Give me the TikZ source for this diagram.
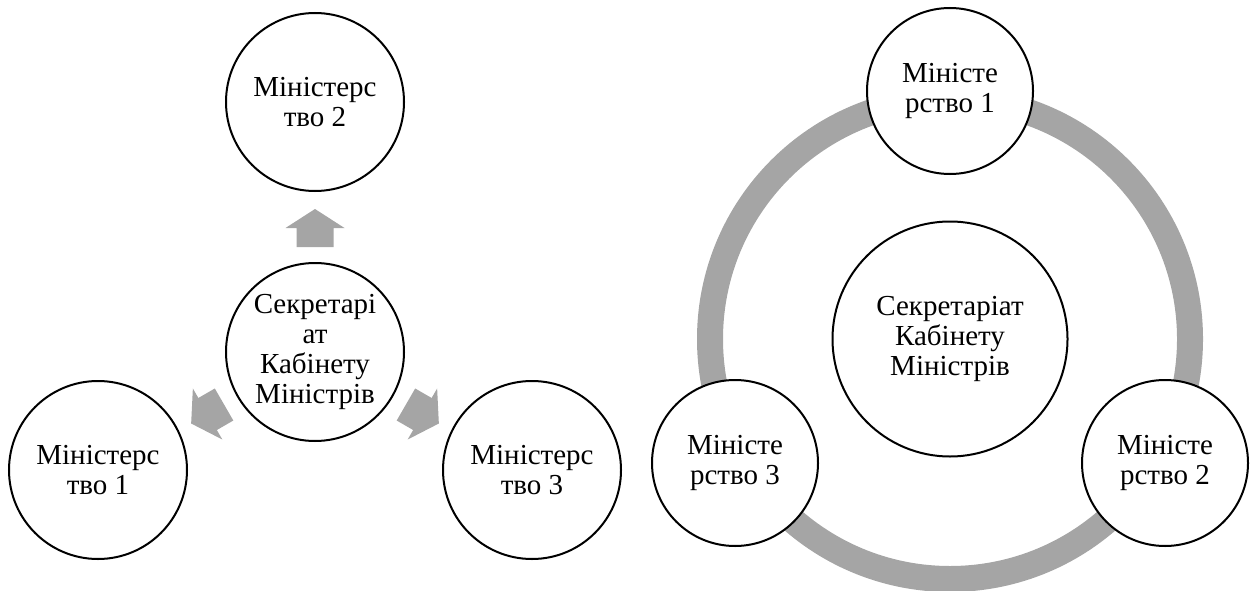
\documentclass[tikz,border=0pt]{standalone}
\usepackage{fontspec}
\setmainfont{Liberation Serif}
\definecolor{accentgray}{HTML}{A5A5A5}
\tikzset{
  bubble/.style={circle, draw=black, line width=2pt, fill=white, inner sep=0pt,
    align=center, font=\fontsize{29}{30}\selectfont},
  bigbubble/.style={bubble, minimum size=178pt},
  smallbubble/.style={bubble, minimum size=166pt},
  hubbubble/.style={bubble, minimum size=235pt},
  blockarrow/.style={fill=accentgray, draw=none},
  ringline/.style={draw=accentgray, line width=26pt}
}
\begin{document}
\begin{tikzpicture}[x=1pt,y=-1pt]
\useasboundingbox (0,0) rectangle (1252,591);
% ---------- left diagram ----------
\node[bigbubble] (lc) at (315,352) {Секретарі\\ат\\Кабінету\\Міністрів};
\node[bigbubble] (lt) at (315,102) {Міністерс\\тво 2};
\node[bigbubble] (ll) at (98,470) {Міністерс\\тво 1};
\node[bigbubble] (lr) at (532,470) {Міністерс\\тво 3};
\foreach \ang in {0,120,-120}{
  \begin{scope}[shift={(lc.center)}, rotate=\ang]
    \fill[blockarrow] (-18.5,-105) -- (-18.5,-124) -- (-29.5,-124) -- (0,-143)
      -- (29.5,-124) -- (18.5,-124) -- (18.5,-105) -- cycle;
  \end{scope}
}
% ---------- right diagram ----------
\coordinate (rc0) at (950,339);
\draw[ringline] (rc0) circle[radius=240];
\node[hubbubble] (rc) at (rc0) {Секретаріат\\Кабінету\\Міністрів};
\node[smallbubble] (rt) at (950,91) {Міністе\\рство 1};
\node[smallbubble] (rr) at (1165,463) {Міністе\\рство 2};
\node[smallbubble] (rl) at (735,463) {Міністе\\рство 3};
\end{tikzpicture}
\end{document}
